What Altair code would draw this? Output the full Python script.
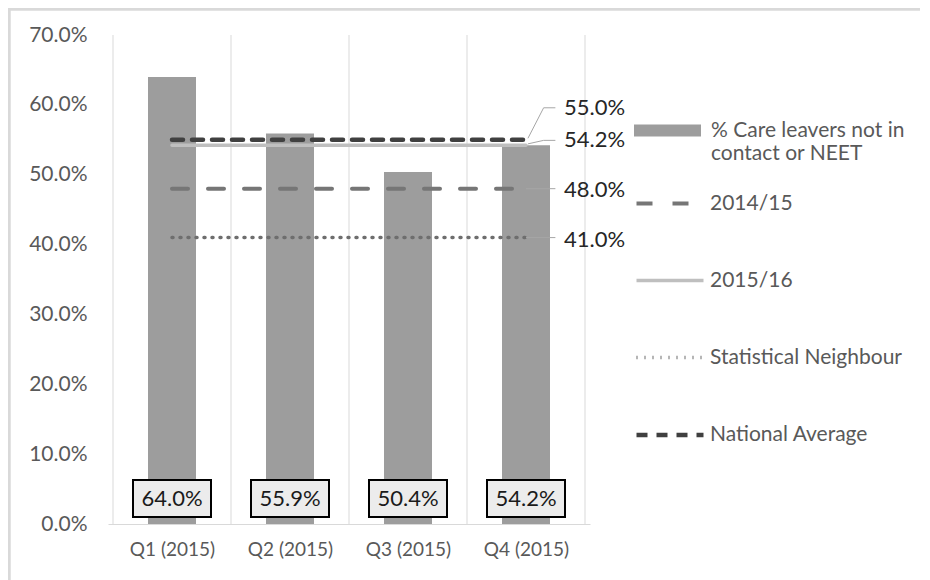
import json
import altair as alt
import pandas as pd

FONT = "Lato"

# ---- data ----
quarters = ["Q1 (2015)", "Q2 (2015)", "Q3 (2015)", "Q4 (2015)"]
pct_not_in_contact = [0.640, 0.559, 0.504, 0.542]
bar_series = "% Care leavers not in contact or NEET"

line_series = ["2014/15", "2015/16", "Statistical Neighbour", "National Average"]
line_values = [0.480, 0.542, 0.410, 0.550]

# ---- layout / style ----
W, H = 482, 489
YMAX = 0.7
N = len(quarters)
ypx = YMAX / H          # data units per pixel (y)
xpx = N / W             # data units per pixel (x)

line_colors = ["#767676", "#bfbfbf", "#6e6e6e", "#404040"]
line_dashes = [[16, 20], [1, 0], [1, 7], [11, 9]]
line_widths = [4, 3.5, 3.5, 4.5]
label_shift_px = {"2014/15": -1, "2015/16": 5, "Statistical Neighbour": -2, "National Average": 32}

bars = pd.DataFrame({
    "quarter": quarters,
    "pos": [i + 0.5 for i in range(N)],
    "value": pct_not_in_contact,
    "series": [bar_series] * N,
})

lines = pd.DataFrame([
    {"series": s, "quarter": q, "pos": i + 0.5, "value": v}
    for s, v in zip(line_series, line_values)
    for i, q in enumerate(quarters)
])

last = N - 0.5
end_labels = pd.DataFrame({
    "series": line_series,
    "value": line_values,
    "pos": [last] * len(line_series),
    "label_y": [v + label_shift_px[s] * ypx for s, v in zip(line_series, line_values)],
})

# leader lines from line ends to the value labels
leader_rows = []
for s, v in zip(line_series, line_values):
    sh = label_shift_px[s]
    y_end = v + sh * ypx
    if abs(sh) > 3:
        leader_rows += [
            {"series": s, "k": 0, "x": last + 2 * xpx, "y": v + 1.5 * ypx},
            {"series": s, "k": 1, "x": last + 18 * xpx, "y": y_end},
            {"series": s, "k": 2, "x": last + 30 * xpx, "y": y_end},
        ]
    else:
        leader_rows += [
            {"series": s, "k": 0, "x": last, "y": v},
            {"series": s, "k": 1, "x": last + 30 * xpx, "y": v},
        ]
leaders = pd.DataFrame(leader_rows)

grid = pd.DataFrame({"b": list(range(N + 1))})

xscale = alt.Scale(domain=[0, N], nice=False, zero=False)
yscale = alt.Scale(domain=[0, YMAX], nice=False)

label_expr = json.dumps(quarters) + "[floor(datum.value)]"
xaxis = alt.Axis(values=[i + 0.5 for i in range(N)], labelExpr=label_expr, title=None,
                 ticks=False, grid=False, domain=True, domainColor="#d9d9d9", domainWidth=1,
                 labelPadding=16, labelFontSize=19, labelColor="#595959", labelFont=FONT,
                 labelFlush=False)
yaxis = alt.Axis(values=[round(0.1 * k, 1) for k in range(8)], format=".1%", title=None,
                 ticks=False, grid=False, domain=False, labelPadding=21, labelFontSize=21,
                 labelColor="#595959", labelFont=FONT, labelFlush=False)

# chart frame (left and top edges visible in the reference crop)
frame_left = alt.Chart(grid).mark_rule(color="#d9d9d9", strokeWidth=2.5).encode(
    x=alt.value(-99), y=alt.value(-27), y2=alt.value(H + 60),
)
frame_top = alt.Chart(grid).mark_rule(color="#d9d9d9", strokeWidth=2.5).encode(
    x=alt.value(-100), x2=alt.value(W + 340), y=alt.value(-26),
)

gridlines = alt.Chart(grid).mark_rule(color="#d9d9d9", strokeWidth=1).encode(
    x=alt.X("b:Q", scale=xscale, axis=xaxis),
    y=alt.value(0),
    y2=alt.value(H),
)

bar_layer = alt.Chart(bars).mark_bar(width=48).encode(
    x=alt.X("pos:Q", scale=xscale, axis=xaxis),
    y=alt.Y("value:Q", scale=yscale, axis=yaxis),
    fill=alt.Fill("series:N", scale=alt.Scale(domain=[bar_series], range=["#9d9d9d"]),
                  legend=alt.Legend(title=None, orient="none", legendX=526, legendY=62,
                                    symbolType="M-1,-0.18H1V0.18H-1Z", symbolSize=4489,
                                    symbolStrokeWidth=0,
                                    labelExpr="['% Care leavers not in', 'contact or NEET']",
                                    labelFontSize=21, labelColor="#595959", labelFont=FONT,
                                    labelOffset=10, labelLimit=320, padding=0)),
)

line_legend = alt.Legend(title=None, orient="none", legendX=526, legendY=133,
                         symbolType="stroke", symbolSize=4489, rowPadding=31,
                         labelFontSize=21, labelColor="#595959", labelFont=FONT,
                         labelOffset=4, labelLimit=320, padding=0)

line_layer = alt.Chart(lines).mark_line(strokeCap="round").encode(
    x=alt.X("pos:Q", scale=xscale),
    y=alt.Y("value:Q", scale=yscale),
    color=alt.Color("series:N", scale=alt.Scale(domain=line_series, range=line_colors),
                    legend=line_legend),
    strokeDash=alt.StrokeDash("series:N", scale=alt.Scale(domain=line_series, range=line_dashes),
                              legend=line_legend),
    strokeWidth=alt.StrokeWidth("series:N", scale=alt.Scale(type="ordinal", domain=line_series, range=line_widths),
                                legend=line_legend),
    order=alt.Order("pos:Q"),
)

leader_layer = alt.Chart(leaders).mark_line(color="#a6a6a6", strokeWidth=1).encode(
    x=alt.X("x:Q", scale=xscale),
    y=alt.Y("y:Q", scale=yscale),
    detail="series:N",
    order="k:Q",
)

end_text = alt.Chart(end_labels).mark_text(align="left", baseline="middle", dx=38,
                                           fontSize=22, font=FONT, color="#262626").encode(
    x=alt.X("pos:Q", scale=xscale),
    y=alt.Y("label_y:Q", scale=yscale),
    text=alt.Text("value:Q", format=".1%"),
)

box_layer = alt.Chart(bars).mark_bar(width=78, fill="#ececec", stroke="#000000", strokeWidth=2).encode(
    x=alt.X("pos:Q", scale=xscale),
    y=alt.value(H - 44),
    y2=alt.value(H - 7),
)

box_text = alt.Chart(bars).mark_text(baseline="middle", fontSize=22, font=FONT, color="#1a1a1a").encode(
    x=alt.X("pos:Q", scale=xscale),
    y=alt.value(H - 25),
    text=alt.Text("value:Q", format=".1%"),
)

chart = alt.layer(
    frame_left, frame_top, gridlines, bar_layer, line_layer, leader_layer, end_text, box_layer, box_text
).properties(
    width=W, height=H,
    padding={"left": 100, "top": 27, "right": 330, "bottom": 56},
    autosize=alt.AutoSizeParams(type="none"),
    background="white",
).configure_view(stroke=None)

chart.save("out.html", embed_options={"renderer": "svg", "actions": False})
